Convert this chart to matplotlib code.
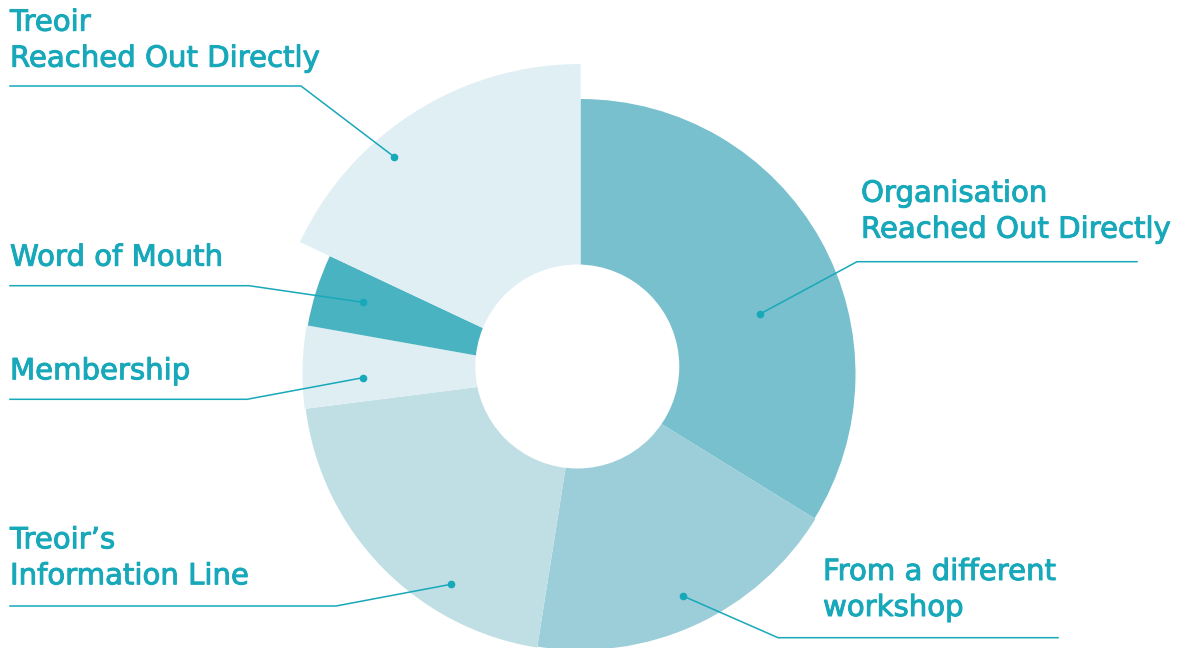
import matplotlib
matplotlib.use("Agg")
import matplotlib.pyplot as plt
import matplotlib.patheffects as pe
from matplotlib.patches import Wedge, Circle

# share of responses (%), clockwise from 12 o'clock
categories = ["Organisation\nReached Out Directly", "From a different\nworkshop",
              "Treoir\u2019s\nInformation Line", "Membership", "Word of Mouth",
              "Treoir\nReached Out Directly"]
values = [33.8, 18.7, 20.5, 4.8, 4.2, 18.0]

colors = ["#78c0cd", "#9bced8", "#bfdfe4", "#dfeef3", "#4ab3c2", "#e0eff4"]
radii = [275, 276, 277, 278, 277, 310]   # outer radius of each slice (px)
teal = "#17a8ba"

W, H = 1184, 648
cx, cy = 580.5, H - 374
hole = (577.3, H - 366.5, 102)

# label layout (image px): text x, first baseline, line end x, line y, elbow x, dot
label_pos = [
    (861, 201.7, 1137, 261.7, 857, (760, 314)),
    (823, 580.0, 1058, 637.7, 778, (683, 596)),
    (10, 548.3, 10, 606.0, 336, (451, 584.3)),
    (10, 379.3, 10, 399.3, 247, (363, 377.7)),
    (10, 265.7, 10, 285.7, 249, (363, 302.3)),
    (10, 30.7, 10, 86.0, 301, (394, 156.7)),
]

plt.rcParams['font.family'] = ['DejaVu Sans']

fig = plt.figure(figsize=(W / 100, H / 100), dpi=100)
ax = fig.add_axes([0, 0, 1, 1])
ax.set_xlim(0, W)
ax.set_ylim(0, H)
ax.axis("off")

total = sum(values)
start = 90.0
for v, c, r in zip(values, colors, radii):
    sweep = v / total * 360
    ax.add_patch(Wedge((cx, cy), r, start - sweep, start, facecolor=c,
                       edgecolor="none"))
    start -= sweep

ax.add_patch(Circle(hole[:2], hole[2], facecolor="white", edgecolor="none"))

thick = [pe.withStroke(linewidth=0.7, foreground=teal)]
for lab, (tx, base, lx, ly, ex, dot) in zip(categories, label_pos):
    for i, line in enumerate(lab.split("\n")):
        ax.text(tx, H - (base + 36 * i), line, color=teal, fontsize=21,
                ha="left", va="baseline", path_effects=thick)
    ax.plot([lx, ex, dot[0]], [H - ly, H - ly, H - dot[1]], color=teal, lw=1.1)
    ax.plot(dot[0], H - dot[1], "o", color=teal, ms=4.5)

fig.savefig("out.png", dpi=100)
